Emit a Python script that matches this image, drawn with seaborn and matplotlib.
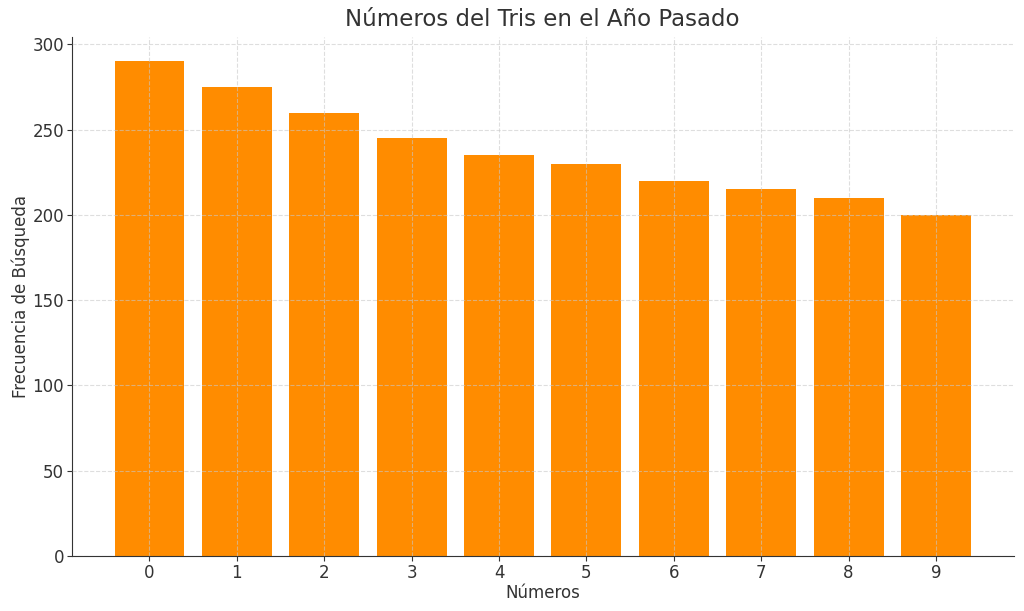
import matplotlib
matplotlib.use("Agg")
import matplotlib.pyplot as plt
import seaborn as sns
import pandas as pd

# Datos del gráfico
numeros = [0, 1, 2, 3, 4, 5, 6, 7, 8, 9]
frecuencias = [290, 275, 260, 245, 235, 230, 220, 215, 210, 200]

df = pd.DataFrame({"Números": numeros, "Frecuencia": frecuencias})

sns.set_style("white")
plt.rcParams['font.family'] = ['DejaVu Sans']

fig, ax = plt.subplots(figsize=(10.24, 6.11), dpi=100)
sns.barplot(data=df, x="Números", y="Frecuencia", color="darkorange",
            saturation=1, width=0.8, native_scale=True, linewidth=0, ax=ax)

ax.set_xticks(numeros)
ax.set_xticklabels([str(n) for n in numeros])
ax.set_xlim(-0.89, 9.89)
ax.set_ylim(0, 304.5)

ax.set_title("Números del Tris en el Año Pasado", fontsize=16.5, color="#333333", pad=8)
ax.set_xlabel("Números", fontsize=12, color="#333333", labelpad=2)
ax.set_ylabel("Frecuencia de Búsqueda", fontsize=12, color="#333333", labelpad=2)
ax.tick_params(axis="both", labelsize=12, colors="#333333", length=3.5, pad=2,
               left=True, bottom=True)

ax.set_axisbelow(False)
ax.grid(True, linestyle="--", color="#c8c8c8", alpha=0.6, linewidth=0.8)
sns.despine(ax=ax)
for s in ["left", "bottom"]:
    ax.spines[s].set_color("#333333")

plt.subplots_adjust(left=0.07, right=0.99, top=0.94, bottom=0.09)
plt.savefig("out.png", dpi=100)
